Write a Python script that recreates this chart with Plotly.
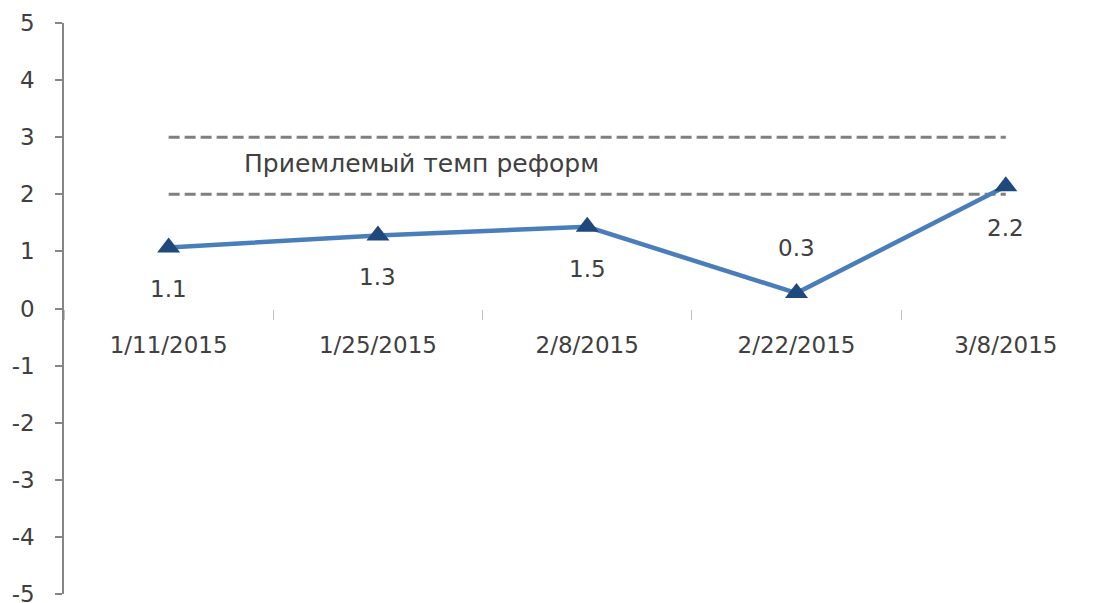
import plotly.graph_objects as go

categories = ["1/11/2015", "1/25/2015", "2/8/2015", "2/22/2015", "3/8/2015"]
values = [1.07, 1.28, 1.43, 0.27, 2.14]
value_labels = ["1.1", "1.3", "1.5", "0.3", "2.2"]
upper_bound = [3, 3, 3, 3, 3]
lower_bound = [2, 2, 2, 2, 2]
band_label = "Приемлемый темп реформ"
y_tickvals = [-5, -4, -3, -2, -1, 0, 1, 2, 3, 4, 5]
y_ticktext = ["-5", "-4", "-3", "-2", "-1", "0", "1", "2", "3", "4", "5"]
label_above = [False, False, False, True, False]

FONT = "DejaVu Sans"
TXT = "#404040"
FS = 23

fig = go.Figure()
for band in (upper_bound, lower_bound):
    fig.add_trace(go.Scatter(
        x=categories, y=band, mode="lines",
        line=dict(color="#808080", width=3, dash="11px,5px"),
        hoverinfo="skip"))

fig.add_trace(go.Scatter(
    x=categories, y=values, mode="lines+markers",
    line=dict(color="#4A7EBB", width=4.5),
    marker=dict(symbol="triangle-up", size=20, color="#1F497D",
                line=dict(width=0))))

for c, v, t, up in zip(categories, values, value_labels, label_above):
    fig.add_annotation(x=c, y=v, text=t, showarrow=False,
                       yshift=45 if up else -42,
                       font=dict(family=FONT, size=FS, color=TXT))

fig.add_annotation(x=1.21, y=2.54, text=band_label, showarrow=False,
                   font=dict(family=FONT, size=25, color=TXT))

fig.update_layout(
    width=1097, height=603,
    margin=dict(l=56, r=0, t=15, b=17),
    paper_bgcolor="white", plot_bgcolor="white",
    showlegend=False,
    xaxis=dict(
        type="category", range=[-0.5, 4.474],
        anchor="free", position=0.5,
        showline=False, showgrid=False, zeroline=False,
        ticks="outside", tickson="boundaries", ticklen=10,
        tickcolor="#BFBFBF", tickwidth=1,
        ticklabelstandoff=20,
        tickfont=dict(family=FONT, size=FS, color=TXT),
        automargin=False),
    yaxis=dict(
        range=[-5, 5], tickvals=y_tickvals, ticktext=y_ticktext,
        showline=True, linecolor="#868686", linewidth=1.5,
        showgrid=False, zeroline=False,
        ticks="outside", ticklen=7, tickcolor="#868686", tickwidth=1.5,
        ticklabelstandoff=16,
        tickfont=dict(family=FONT, size=FS, color=TXT),
        automargin=False),
)

fig.write_html("out.html")
